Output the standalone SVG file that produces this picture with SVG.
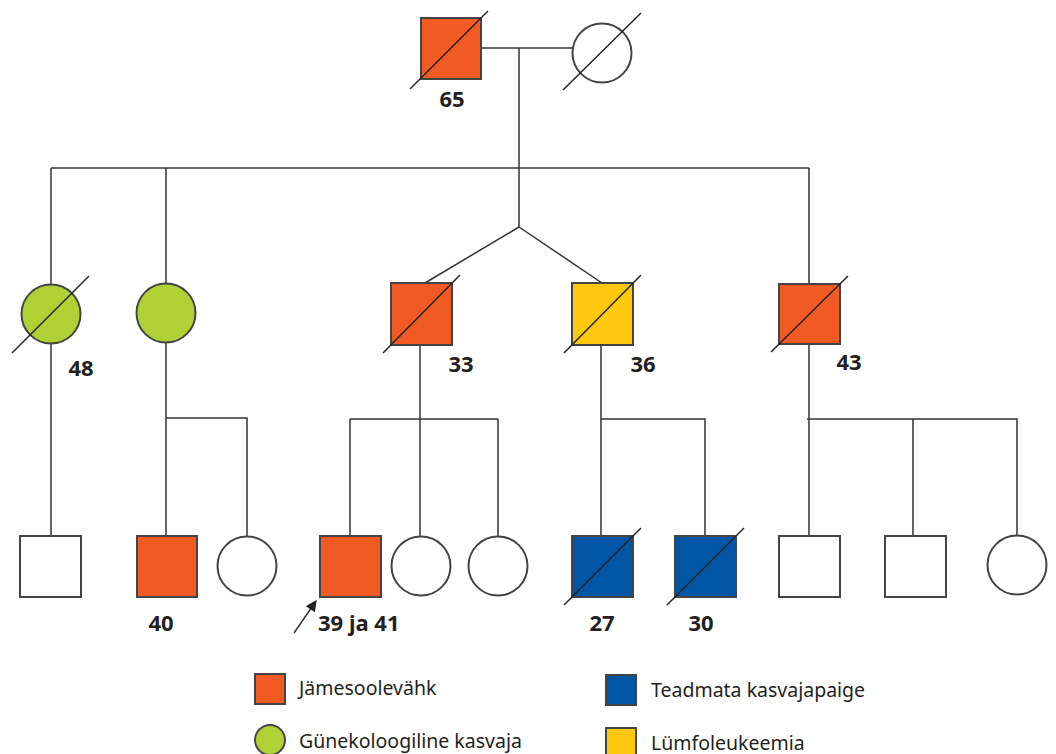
<svg xmlns="http://www.w3.org/2000/svg" width="1056" height="754" viewBox="0 0 1056 754">
<style>
.ln{stroke:#333;stroke-width:1.5;fill:none}
.sh{stroke:#444;stroke-width:2}
.dg{stroke:#222;stroke-width:1.5}
.or{fill:#F15A22}.gr{fill:#B0D136}.bl{fill:#0055A5}.ye{fill:#FDC80D}.wh{fill:#fff}
.num{font-family:"Noto Sans","Open Sans",sans-serif;font-weight:bold;font-size:22px;fill:#231F20}
.lg{font-family:"Noto Sans","Open Sans",sans-serif;font-size:19.5px;fill:#231F20}
</style>
<defs>
<marker id="ah" viewBox="0 0 10 10" refX="9" refY="5" markerWidth="13" markerHeight="11" markerUnits="userSpaceOnUse" orient="auto"><path d="M0,0 L10,5 L0,10 z" fill="#231F20"/></marker>
</defs>
<rect width="1056" height="754" fill="#fff"/>
<g id="connectors">
<path class="ln" d="M481,48 H573 M519,48 V227 M51,168 H809 M51,168 V285 M166,168 V284 M809,168 V284"/>
<path class="ln" d="M519,227 L425,283 M519,227 L602,283"/>
<path class="ln" d="M51,343 V536 M166,342 V536 M166,418 H247 V536"/>
<path class="ln" d="M420,345 V536 M350,419 H498 M350,419 V536 M498,419 V536"/>
<path class="ln" d="M601,345 V536 M601,419 H705 V536"/>
<path class="ln" d="M809,344 V536 M807,419 H1017 V536 M913,419 V536"/>
<line class="ln" x1="294" y1="633" x2="316" y2="601" marker-end="url(#ah)"/>
</g>
<g id="gen1-father"><rect class="sh or" x="421" y="18" width="60" height="61"/><line class="dg" x1="410" y1="89" x2="488" y2="11"/><text class="num" x="452" y="107" text-anchor="middle">65</text></g>
<g id="gen1-mother"><circle class="sh wh" cx="602" cy="53" r="29.5"/><line class="dg" x1="563" y1="90" x2="641" y2="13"/></g>
<g id="gen2-d1"><circle class="sh gr" cx="51" cy="314" r="29.5"/><line class="dg" x1="12" y1="353" x2="89" y2="276"/><text class="num" x="81" y="376" text-anchor="middle">48</text></g>
<g id="gen2-d2"><circle class="sh gr" cx="166" cy="313" r="29.5"/></g>
<g id="gen2-s33"><rect class="sh or" x="391" y="283" width="61" height="62"/><line class="dg" x1="383" y1="353" x2="460" y2="275"/><text class="num" x="461" y="372" text-anchor="middle">33</text></g>
<g id="gen2-s36"><rect class="sh ye" x="572" y="283" width="61" height="62"/><line class="dg" x1="564" y1="353" x2="641" y2="275"/><text class="num" x="643" y="372" text-anchor="middle">36</text></g>
<g id="gen2-s43"><rect class="sh or" x="779" y="284" width="61" height="60"/><line class="dg" x1="771" y1="352" x2="848" y2="276"/><text class="num" x="849" y="370" text-anchor="middle">43</text></g>
<g id="gen3-1"><rect class="sh wh" x="20" y="536" width="61" height="61"/></g>
<g id="gen3-2"><rect class="sh or" x="137" y="536" width="60" height="61"/><text class="num" x="161" y="631" text-anchor="middle">40</text></g>
<g id="gen3-3"><circle class="sh wh" cx="247" cy="566" r="29.5"/></g>
<g id="gen3-4"><rect class="sh or" x="320" y="536" width="61" height="61"/><text class="num" x="318" y="631">39 ja 41</text></g>
<g id="gen3-5"><circle class="sh wh" cx="421" cy="566" r="29.5"/></g>
<g id="gen3-6"><circle class="sh wh" cx="498" cy="566" r="29.5"/></g>
<g id="gen3-7"><rect class="sh bl" x="572" y="536" width="61" height="61"/><line class="dg" x1="564" y1="605" x2="641" y2="528"/><text class="num" x="602" y="631" text-anchor="middle">27</text></g>
<g id="gen3-8"><rect class="sh bl" x="675" y="536" width="61" height="61"/><line class="dg" x1="667" y1="605" x2="744" y2="528"/><text class="num" x="701" y="631" text-anchor="middle">30</text></g>
<g id="gen3-9"><rect class="sh wh" x="779" y="536" width="61" height="61"/></g>
<g id="gen3-10"><rect class="sh wh" x="885" y="536" width="61" height="61"/></g>
<g id="gen3-11"><circle class="sh wh" cx="1017" cy="565" r="29.5"/></g>
<g id="legend">
<rect class="sh or" x="255" y="674" width="30" height="30" stroke-width="1.5"/><text class="lg" x="299" y="695">Jämesoolevähk</text>
<circle class="sh gr" cx="270" cy="740" r="15" stroke-width="1.5"/><text class="lg" x="299" y="748">Günekoloogiline kasvaja</text>
<rect class="sh bl" x="606" y="675" width="30" height="30" stroke-width="1.5"/><text class="lg" x="651" y="697">Teadmata kasvajapaige</text>
<rect class="sh ye" x="606" y="728" width="30" height="30" stroke-width="1.5"/><text class="lg" x="651" y="750">Lümfoleukeemia</text>
</g>
</svg>
